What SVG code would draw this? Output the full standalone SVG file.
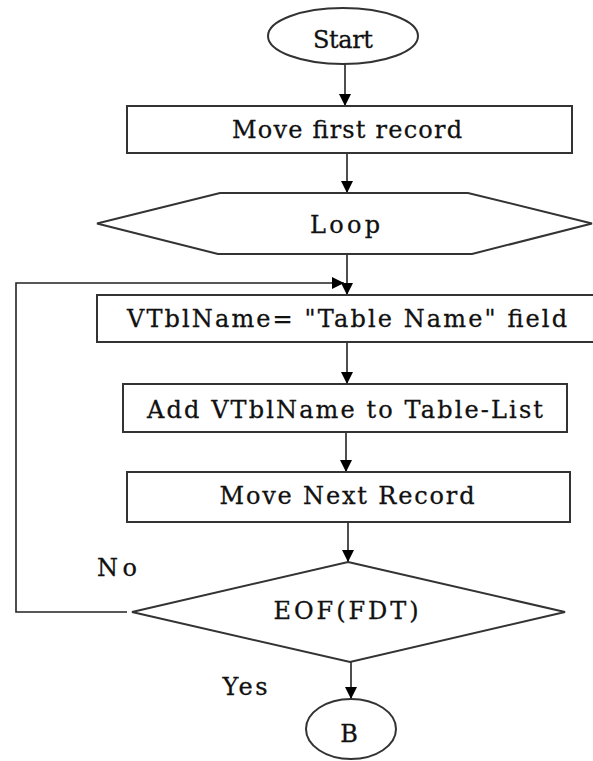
<svg xmlns="http://www.w3.org/2000/svg" width="593" height="761" viewBox="0 0 593 761">
<defs>
<marker id="arr" viewBox="0 0 12 12" refX="12" refY="6" markerWidth="12" markerHeight="12" markerUnits="userSpaceOnUse" orient="auto">
<path d="M0,0 L12,6 L0,12 z" fill="#000"/>
</marker>
<style>
.shape{fill:#fff;stroke:#333;stroke-width:2}
.conn{fill:none;stroke:#222;stroke-width:1.6}
text{font-family:"DejaVu Serif","Liberation Serif",serif;font-size:24px;fill:#111;stroke:#111;stroke-width:0.3}
</style>
</defs>
<rect width="593" height="761" fill="#fff"/>
<g id="connectors">
<line class="conn" x1="345" y1="64" x2="345" y2="106" marker-end="url(#arr)"/>
<line class="conn" x1="347" y1="153" x2="347" y2="193" marker-end="url(#arr)"/>
<line class="conn" x1="347" y1="254" x2="347" y2="295" marker-end="url(#arr)"/>
<polyline class="conn" points="127,612 16,612 16,283 344,283" marker-end="url(#arr)"/>
<line class="conn" x1="347" y1="342" x2="347" y2="384" marker-end="url(#arr)"/>
<line class="conn" x1="346" y1="432" x2="346" y2="472" marker-end="url(#arr)"/>
<line class="conn" x1="348" y1="522" x2="348" y2="562" marker-end="url(#arr)"/>
<line class="conn" x1="351" y1="662" x2="351" y2="699" marker-end="url(#arr)"/>
<text x="117" y="576" text-anchor="middle" textLength="40">No</text>
<text x="245" y="695" text-anchor="middle" textLength="45">Yes</text>
</g>
<g id="start">
<ellipse class="shape" cx="343" cy="36" rx="75" ry="28"/>
<text x="343" y="48" text-anchor="middle" textLength="60">Start</text>
</g>
<g id="move-first">
<rect class="shape" x="127" y="106" width="445" height="47"/>
<text x="347" y="138" text-anchor="middle" textLength="230">Move first record</text>
</g>
<g id="loop">
<polygon class="shape" points="97,223.5 220,193 468,193 592,223.5 472,254 218,254"/>
<text x="345" y="233" text-anchor="middle" textLength="70">Loop</text>
</g>
<g id="vtblname">
<rect class="shape" x="97" y="295" width="510" height="47"/>
<text x="347" y="327" text-anchor="middle" textLength="440">VTblName= "Table Name" field</text>
</g>
<g id="add">
<rect class="shape" x="123" y="384" width="444" height="48"/>
<text x="345" y="418" text-anchor="middle" textLength="396">Add VTblName to Table-List</text>
</g>
<g id="move-next">
<rect class="shape" x="127" y="472" width="443" height="50"/>
<text x="347" y="504" text-anchor="middle" textLength="255">Move Next Record</text>
</g>
<g id="eof">
<polygon class="shape" points="348,562 565,612 350,662 132,612"/>
<text x="346" y="619" text-anchor="middle" textLength="145">EOF(FDT)</text>
</g>
<g id="b">
<ellipse class="shape" cx="351" cy="729" rx="45" ry="30"/>
<text x="349" y="742" text-anchor="middle" textLength="18">B</text>
</g>
</svg>
